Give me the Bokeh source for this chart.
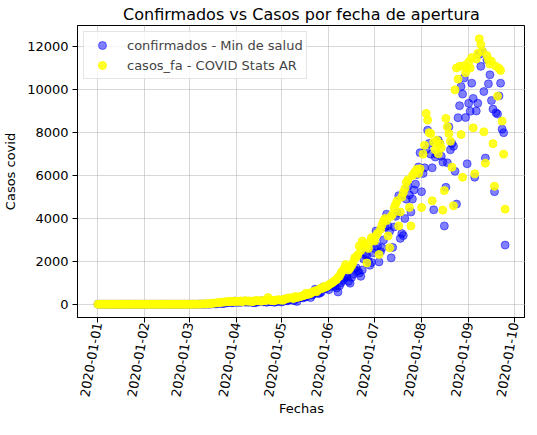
import pandas as pd
from bokeh.plotting import figure
from bokeh.models import Range1d, FixedTicker, Legend, LegendItem, ColumnDataSource
from bokeh.embed import file_html
from bokeh.resources import INLINE

start_date = "2020-01-01"

tick_dates = ["2020-01-01", "2020-02-01", "2020-03-01", "2020-04-01", "2020-05-01",
              "2020-06-01", "2020-07-01", "2020-08-01", "2020-09-01", "2020-10-01"]
tick_labels = ["2020-01-01", "2020-01-02", "2020-01-03", "2020-01-04", "2020-01-05",
               "2020-01-06", "2020-01-07", "2020-01-08", "2020-01-09", "2020-01-10"]

# confirmados - Min de salud (daily)
conf_ene = [0, 0, 0, 0, 0, 0, 0, 0, 0, 0, 0, 0, 0, 0, 0, 0, 0, 0, 0, 0, 0, 0, 0, 0, 0, 0, 0, 0, 0, 0, 0]
conf_feb = [0, 0, 0, 0, 0, 0, 0, 0, 0, 0, 0, 0, 0, 0, 0, 0, 0, 0, 0, 0, 0, 0, 0, 0, 0, 0, 0, 0, 0]
conf_mar = [0, 0, 1, 0, 0, 0, 1, 6, 3, 5, 2, 3, 10, 3, 13, 11, 20, 14, 18, 31, 67, 41, 35, 36, 86, 60, 87, 101, 75, 66, 146]
conf_abr = [115, 82, 132, 88, 104, 145, 98, 139, 89, 126, 96, 78, 79, 76, 143, 111, 140, 157, 108, 122,
            89, 151, 120, 117, 172, 90, 111, 124, 162, 135]
conf_may = [104, 143, 229, 160, 167, 198, 241, 243, 165, 240, 129, 285, 318, 316, 289, 345, 342, 404, 472, 308,
            436, 474, 704, 553, 501, 516, 566, 794, 734, 728, 813]
conf_jun = [674, 820, 930, 900, 840, 760, 570, 860, 1000, 1110, 1210, 1300, 1280, 1066, 980, 1250, 1400, 1620, 1700, 1550,
            1457, 1300, 1600, 2100, 2300, 2288, 2000, 1818, 1950, 2400]
conf_jul = [2600, 3416, 2700, 1975, 2450, 2630, 3000, 3600, 4200, 3650, 3400, 2162, 2650, 3604, 4100, 4250, 5062, 3071, 3300, 3200,
            4000, 4900, 5500, 5100, 4300, 4905, 5328, 5600, 6050, 6400, 7067]
conf_ago = [5250, 6100, 6362, 7200, 8117, 7500, 7000, 6362, 4403, 6863, 7000, 7650, 7500, 6900, 6628, 3651, 5453, 6597, 8274, 7200,
            7500, 7365, 6200, 4670, 8700, 9260, 10154, 9800, 10546, 8712, 6550]
conf_sep = [9370, 9000, 10311, 9600, 5923, 9010, 9370, 11650, 11094, 11800, 9920, 6816, 11400, 10280, 10700, 9500, 9100, 5250, 8930, 8870,
            9715, 10311, 8164, 8000, 2758]

# casos_fa - COVID Stats AR (daily, by fecha de apertura)
fa_ene = [0, 0, 0, 0, 0, 0, 0, 0, 0, 0, 0, 0, 0, 0, 0, 0, 0, 0, 0, 0, 0, 0, 0, 0, 0, 0, 0, 0, 0, 0, 0]
fa_feb = [0, 0, 0, 0, 0, 0, 0, 0, 0, 0, 0, 0, 0, 0, 0, 0, 0, 0, 0, 0, 0, 0, 0, 0, 0, 0, 0, 0, 0]
fa_mar = [0, 0, 1, 1, 2, 3, 4, 6, 8, 10, 12, 15, 20, 25, 30, 38, 45, 55, 60, 70, 85, 90, 95, 100, 110, 115, 120, 125, 130, 120, 135]
fa_abr = [140, 130, 135, 150, 120, 145, 160, 150, 140, 155, 130, 120, 150, 170, 160, 165, 150, 145, 170, 160,
          180, 313, 190, 175, 170, 160, 185, 200, 210, 190]
fa_may = [200, 180, 240, 260, 282, 290, 300, 280, 270, 360, 320, 330, 350, 380, 400, 420, 517, 450, 480, 500,
          560, 600, 620, 580, 674, 700, 760, 740, 830, 800, 850]
fa_jun = [900, 950, 987, 1050, 1100, 1144, 1250, 1300, 1457, 1550, 1650, 1850, 1700, 1600, 1692, 1800, 1950, 2162, 2200, 2300,
          2711, 2500, 2946, 2800, 2700, 1927, 2600, 2900, 3100, 3000]
fa_jul = [2946, 3200, 3300, 2320, 3494, 3700, 3886, 4000, 3900, 3180, 2633, 4100, 4200, 4500, 4670, 4826, 3651, 4300, 5000, 5200,
          5400, 5690, 5800, 4513, 3651, 6000, 6100, 6200, 6300, 6100, 6315]
fa_ago = [4513, 7000, 7412, 8900, 8587, 8000, 7960, 4826, 7569, 7200, 7647, 7020, 7490, 7300, 4388, 5300, 8665, 8274, 7960, 7600,
          6393, 4591, 9997, 11016, 10500, 11094, 7913, 5923, 11125, 10800, 11000]
fa_sep = [11300, 11016, 11500, 8227, 6080, 11440, 11700, 12380, 12110, 11800, 8040, 6580, 11600, 11400, 11200, 11330, 7490, 5500, 11100, 9700,
          11000, 10900, 8540, 7000, 4435]

confirmados = conf_ene + conf_feb + conf_mar + conf_abr + conf_may + conf_jun + conf_jul + conf_ago + conf_sep
casos_fa = fa_ene + fa_feb + fa_mar + fa_abr + fa_may + fa_jun + fa_jul + fa_ago + fa_sep
fechas = pd.date_range(start_date, periods=len(confirmados), freq="D")

src = ColumnDataSource(dict(fecha=fechas, conf=confirmados, fa=casos_fa))

FONT = "DejaVu Sans"
DAY = 86400000.0
t0 = pd.Timestamp(start_date).timestamp() * 1000.0
n = len(confirmados) - 1
ymax = max(max(confirmados), max(casos_fa))

p = figure(width=525, height=419, x_axis_type="datetime", output_backend="svg",
           toolbar_location=None, title="Confirmados vs Casos por fecha de apertura",
           min_border_left=72, min_border_right=0, min_border_top=22, min_border_bottom=100)
p.x_range = Range1d(t0 - 0.05 * n * DAY, t0 + 1.05 * n * DAY)
p.y_range = Range1d(-0.05 * ymax, 1.05 * ymax)

r1 = p.scatter("fecha", "conf", source=src, size=8, fill_color="blue", fill_alpha=0.5,
               line_color="blue", line_alpha=0.5)
r2 = p.scatter("fecha", "fa", source=src, size=8, fill_color="#ffff00", fill_alpha=0.85,
               line_color="#ffff00", line_alpha=0.85)

tick_ms = [pd.Timestamp(d).timestamp() * 1000.0 for d in tick_dates]
p.xaxis.ticker = FixedTicker(ticks=tick_ms)
p.xaxis.major_label_overrides = {t: l for t, l in zip(tick_ms, tick_labels)}
p.xaxis.major_label_orientation = 80 * 3.14159265 / 180
p.yaxis.ticker = FixedTicker(ticks=[0, 2000, 4000, 6000, 8000, 10000, 12000])

p.title.text_font = FONT
p.title.text_font_size = "16px"
p.title.text_font_style = "normal"
p.title.text_color = "black"
p.title.align = "center"
p.title.standoff = 4

p.xaxis.axis_label = "Fechas"
p.yaxis.axis_label = "Casos covid"
for ax in (p.xaxis, p.yaxis):
    ax.axis_label_text_font = FONT
    ax.axis_label_text_font_size = "13px"
    ax.axis_label_text_font_style = "normal"
    ax.axis_label_text_color = "black"
    ax.major_label_text_font = FONT
    ax.major_label_text_font_size = "13px"
    ax.major_label_text_color = "black"
    ax.axis_line_color = "black"
    ax.major_tick_line_color = "black"
    ax.major_tick_out = 5
    ax.major_tick_in = 0
    ax.minor_tick_line_color = None
p.xaxis.major_label_standoff = 0
p.xaxis.axis_label_standoff = 0
p.yaxis.major_label_standoff = 4
p.yaxis.axis_label_standoff = 6

p.grid.grid_line_color = "#b0b0b0"
p.grid.grid_line_alpha = 0.5
p.outline_line_color = "black"
p.outline_line_alpha = 1.0

legend = Legend(items=[LegendItem(label="confirmados - Min de salud", renderers=[r1]),
                       LegendItem(label="casos_fa - COVID Stats AR", renderers=[r2])],
                location="top_left")
legend.label_text_font = FONT
legend.label_text_font_size = "13px"
legend.padding = 3
legend.margin = 6
legend.glyph_width = 30
legend.glyph_height = 20
legend.label_standoff = 10
legend.spacing = 0
legend.border_line_color = "#cccccc"
legend.background_fill_alpha = 0.8
p.add_layout(legend, "center")

open("out.html", "w").write(file_html(p, INLINE))
